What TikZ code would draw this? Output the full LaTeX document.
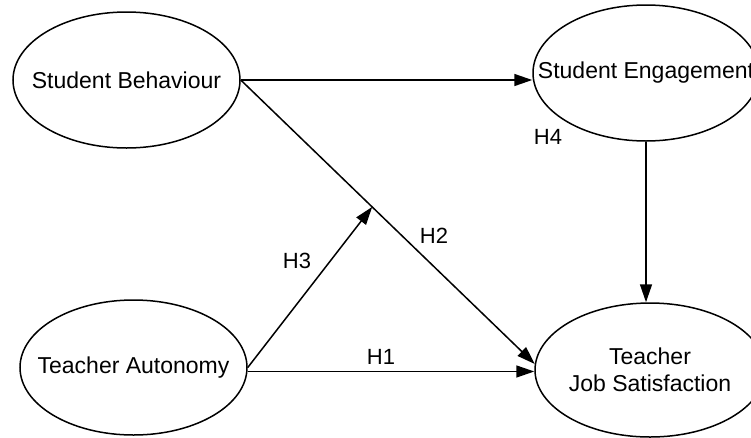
\documentclass[tikz,border=0pt]{standalone}
\usepackage{fontspec}
\setmainfont{Liberation Sans}
\usetikzlibrary{shapes.geometric,arrows.meta}
\tikzset{
  construct/.style={draw,ellipse,line width=1.5pt,inner xsep=-30pt,inner ysep=-12pt,align=center,font=\fontsize{23}{27}\selectfont},
  link/.style={line width=1.5pt,-{Triangle[length=18pt,width=12pt]}},
  hyp/.style={font=\fontsize{22}{27}\selectfont}
}
\begin{document}
\begin{tikzpicture}[x=1pt,y=-1pt]
            \useasboundingbox (0,0) rectangle (751,437);
            \node[construct,minimum width=227pt,minimum height=136pt] (sb) at (126.5,80) {Student Behaviour};
            \node[construct,minimum width=226pt,minimum height=136pt] (se) at (646,73) {Student Engagement};
            \node[construct,minimum width=227pt,minimum height=135pt] (ta) at (133.5,367.5) {Teacher Autonomy};
            \node[construct,minimum width=230pt,minimum height=134pt] (tjs) at (650,370) {Teacher\\Job Satisfaction};
            \draw[link] (sb.east) -- (sb.east -| se.west);
            \draw[link] (sb.east) -- (tjs.177) coordinate[pos=0.447] (mod);
            \draw[link] (ta.east) -- (mod);
            \draw[link] (ta.-2) -- (ta.-2 -| tjs.west);
            \draw[link] (se.south) -- (se.south |- tjs.north);
            \node[hyp] (h1) at (381,357) {H1};
            \node[hyp] (h2) at (434,236) {H2};
            \node[hyp] (h3) at (297,261) {H3};
            \node[hyp] (h4) at (548,137) {H4};
        \end{tikzpicture}
\end{document}
